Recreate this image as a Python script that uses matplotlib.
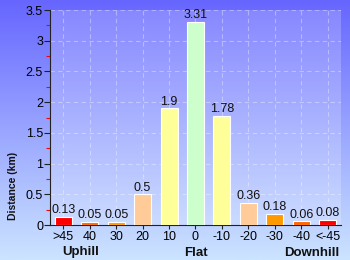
import matplotlib
matplotlib.use("Agg")
import matplotlib.pyplot as plt
import numpy as np
from matplotlib.ticker import MultipleLocator

categories = [">45", "40", "30", "20", "10", "0", "-10", "-20", "-30", "-40", "<-45"]
values = [0.13, 0.05, 0.05, 0.5, 1.9, 3.31, 1.78, 0.36, 0.18, 0.06, 0.08]
value_labels = ["0.13", "0.05", "0.05", "0.5", "1.9", "3.31", "1.78", "0.36", "0.18", "0.06", "0.08"]
colors = ["#ff0000", "#ff6600", "#ff9900", "#ffcc99", "#ffff99", "#ccffcc",
          "#ffff99", "#ffcc99", "#ff9900", "#ff6600", "#ff0000"]
group_labels = ["Uphill", "Flat", "Downhill"]
group_pos = [0.65, 5.0, 9.4]

plt.rcParams['font.family'] = ['Liberation Sans', 'DejaVu Sans']

fig = plt.figure(figsize=(3.5, 2.6), dpi=100)

# gradient background
bg = fig.add_axes([0, 0, 1, 1], zorder=0)
grad = np.linspace(0, 1, 256).reshape(-1, 1)
top = np.array([0x66, 0x66, 0xff]) / 255
bot = np.array([0xcc, 0xe4, 0xff]) / 255
img = top[None, None, :] * (1 - grad[:, :, None]) + bot[None, None, :] * grad[:, :, None]
bg.imshow(img, aspect='auto', extent=[0, 1, 0, 1], origin='upper')
bg.axis('off')

ax = fig.add_axes([50/350, 1-225/260, 291/350, 215/260], zorder=1)
ax.set_facecolor((1, 1, 1, 0.2))

x = np.arange(len(categories))
ax.bar(x, values, width=0.64, color=colors, edgecolor='white', linewidth=0.8, zorder=3)
for xi, v, lab in zip(x, values, value_labels):
    ax.text(xi, v + 0.01, lab, ha='center', va='bottom', fontsize=9, color='#111111', zorder=4)

ax.set_xlim(-0.5, len(categories) - 0.5)
ax.set_ylim(0, 3.5)
ax.set_xticks(x)
ax.set_xticklabels(categories, fontsize=9)
ax.yaxis.set_minor_locator(MultipleLocator(0.25))
ax.set_yticks([0, 0.5, 1, 1.5, 2, 2.5, 3, 3.5])
ax.set_yticklabels(["0", "0.5", "1", "1.5", "2", "2.5", "3", "3.5"], fontsize=9)
ax.tick_params(axis='y', which='major', length=4, width=0.8, color='#222222', pad=1)
ax.tick_params(axis='y', which='minor', length=3, width=0.8, color='red')
ax.tick_params(axis='x', which='major', length=3, width=0.8, color='#222222', pad=1)

ax.grid(True, which='major', color='white', alpha=0.35, linestyle=(0, (4, 3)), linewidth=0.8, zorder=0)
ax.set_axisbelow(True)
for s in ['top', 'right']:
    ax.spines[s].set_visible(False)
ax.spines['left'].set_color('#222222')
ax.spines['bottom'].set_color('#222222')

fig.text(13/350, 1-186/260, "Distance (km)", rotation=90, ha='center', va='center',
         fontsize=7.5, fontweight='bold', color='#111111')

for lab, gp in zip(group_labels, group_pos):
    ax.text(gp, -0.1, lab, transform=ax.get_xaxis_transform(), ha='center', va='top',
            fontsize=9.5, fontweight='bold', color='#111111')

fig.savefig("out.png", dpi=100)
